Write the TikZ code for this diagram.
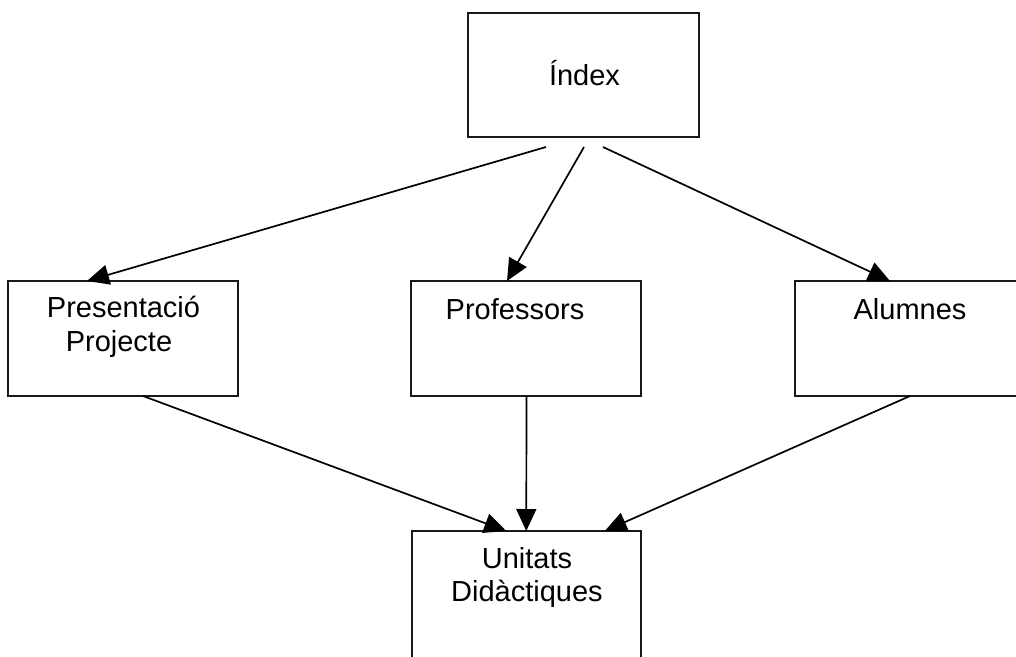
\documentclass[tikz,border=0pt]{standalone}
\usepackage{fontspec}
\setmainfont{Liberation Sans}
\usetikzlibrary{arrows.meta,calc}
\begin{document}
\begin{tikzpicture}[x=1pt,y=-1pt,
  box/.style={draw=black!90,line width=1.8pt,inner sep=0pt,outer sep=0pt,rectangle},
  txt/.style={anchor=base,inner sep=0pt,font=\fontsize{29}{33.5}\selectfont},
  arr/.style={line width=1.7pt,-{Triangle[length=22pt,width=20pt]}}]
\useasboundingbox (0,0) rectangle (1016,656);
\begin{scope}
\clip (0,0) rectangle (1016,656);
% boxes
\node[box,minimum width=231pt,minimum height=124pt] (idx) at (583.5,75) {};
\node[box,minimum width=230pt,minimum height=115pt] (pres) at (123,338.5) {};
\node[box,minimum width=230pt,minimum height=115pt] (prof) at (526,338.5) {};
\node[box,minimum width=230pt,minimum height=115pt] (alum) at (910,338.5) {};
\node[box,minimum width=229.5pt,minimum height=140pt] (unit) at (526.5,601) {};
\end{scope}
% texts
\node[txt] (tidx) at (584.5,85) {Índex};
\node[txt] (tpres1) at (123.5,317) {Presentació};
\node[txt] (tpres2) at (119,351) {Projecte};
\node[txt] (tprof) at (515,319) {Professors};
\node[txt] (talum) at (910,319) {Alumnes};
\node[txt] (tunit1) at (527,568) {Unitats};
\node[txt] (tunit2) at (527,601.5) {Didàctiques};
% connector end points
\coordinate (s1) at ($(idx.south west)+(78,10)$);
\coordinate (s2) at ($(idx.south west)+(116,10)$);
\coordinate (s3) at ($(idx.south west)+(135,10)$);
\coordinate (t1) at ($(pres.north west)+(79,0)$);
\coordinate (t2) at ($(prof.north west)+(96,0)$);
\coordinate (t3) at ($(alum.north west)+(95,0)$);
\coordinate (s4) at ($(pres.south west)+(135,0)$);
\coordinate (s5) at ($(prof.south west)+(115.5,0)$);
\coordinate (s6) at ($(alum.south west)+(115,0)$);
\coordinate (t4) at ($(unit.north west)+(94.5,0)$);
\coordinate (t5) at ($(unit.north west)+(114.5,0)$);
\coordinate (t6) at ($(unit.north west)+(193,0)$);
% connectors
\draw[arr] (s1) -- (t1);
\draw[arr] (s2) -- (t2);
\draw[arr] (s3) -- (t3);
\draw[arr] (s4) -- (t4);
\draw[arr] (s5) -- (t5);
\draw[arr] (s6) -- (t6);
\end{tikzpicture}
\end{document}
